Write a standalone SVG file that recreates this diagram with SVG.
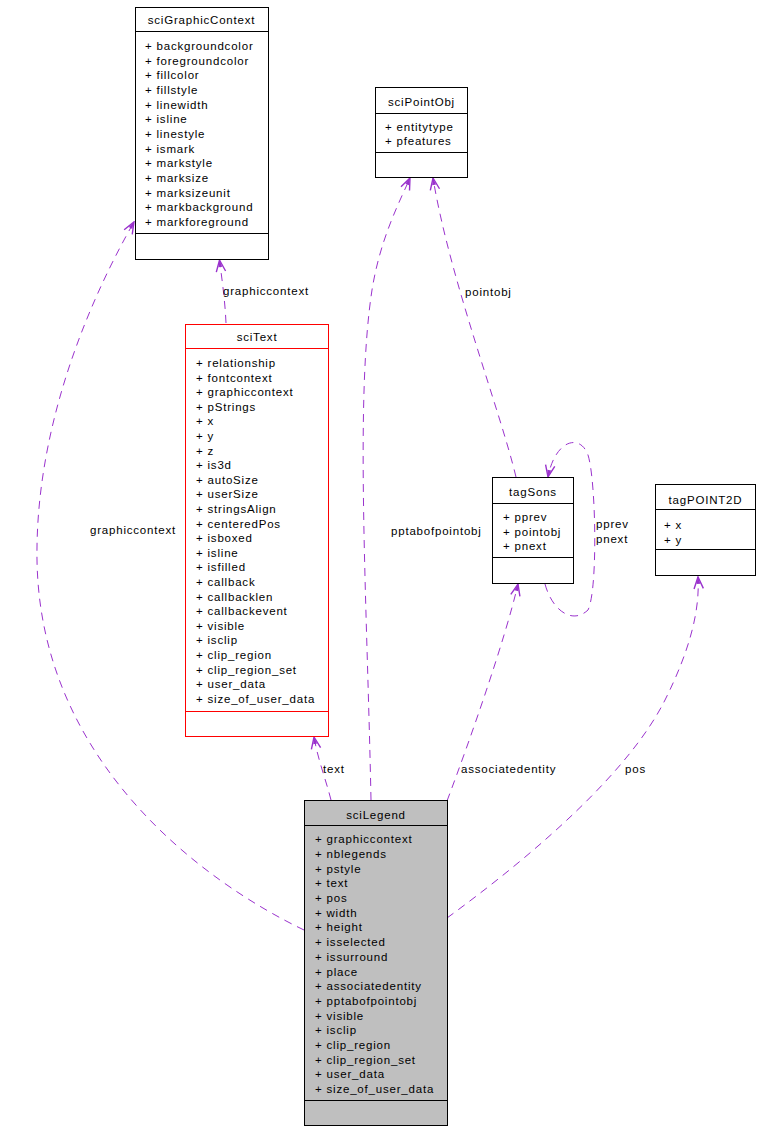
<svg xmlns="http://www.w3.org/2000/svg" width="758" height="1130" viewBox="0 0 758 1130">
  <defs>
    <style>
      text { font-family: "Liberation Sans", Arial, sans-serif; font-size: 11.5px; letter-spacing: 0.8px; fill: #000; }
      .title { text-anchor: middle; }
      .box { fill: #fff; stroke: #000; stroke-width: 1; }
      .box.red { stroke: #ff0000; }
      .box.grey { fill: #bfbfbf; }
      .sep { stroke: #000; stroke-width: 1; }
      .sep.red { stroke: #ff0000; }
      .edge { fill: none; stroke: #9a32cd; stroke-width: 1; stroke-dasharray: 8,6; marker-end: url(#open); }
    </style>
    <marker id="open" markerUnits="userSpaceOnUse" markerWidth="14" markerHeight="12" viewBox="0 0 12 10" refX="11" refY="5" orient="auto">
      <path d="M1,1 L11,5 L1,9" fill="none" stroke="#9a32cd" stroke-width="1.2"/>
      <path d="M5,3.3 L11,5 L5,6.7 Z" fill="#9a32cd"/>
    </marker>
  </defs>

  <!-- connectors -->
  <g id="connectors">
    <path class="edge" d="M304,930 C200,880 40,760 37,560 C35,420 95,290 134,222"/>
    <path class="edge" d="M226,323 C225,300 222,280 219.5,260"/>
    <path class="edge" d="M331,800 C326,780 318,760 314,737"/>
    <path class="edge" d="M371,800 C367,600 355,400 372,290 C380,240 398,205 410,178"/>
    <path class="edge" d="M516,477 C500,410 450,280 433,178"/>
    <path class="edge" d="M545,584 C552,610 572,625 588,610 C598,590 596,480 588,455 C580,433 555,440 548,477"/>
    <path class="edge" d="M447,801 C470,740 505,640 518,584"/>
    <path class="edge" d="M447,918 C540,850 630,770 665,700 C690,650 700,610 698,577"/>
    <text x="90" y="534">graphiccontext</text>
    <text x="223" y="295">graphiccontext</text>
    <text x="465" y="296">pointobj</text>
    <text x="391" y="535">pptabofpointobj</text>
    <text x="596" y="528">pprev</text>
    <text x="596" y="543">pnext</text>
    <text x="323" y="773">text</text>
    <text x="461" y="773">associatedentity</text>
    <text x="625" y="773">pos</text>
  </g>

  <!-- sciGraphicContext -->
  <g id="sciGraphicContext">
    <rect class="box" x="135.5" y="7.5" width="133" height="252"/>
    <line class="sep" x1="135.5" y1="31.5" x2="268.5" y2="31.5"/>
    <line class="sep" x1="135.5" y1="233.5" x2="268.5" y2="233.5"/>
    <text class="title" x="201.5" y="24">sciGraphicContext</text>
    <text x="145" y="50">+ backgroundcolor</text>
    <text x="145" y="64.7">+ foregroundcolor</text>
    <text x="145" y="79.3">+ fillcolor</text>
    <text x="145" y="94">+ fillstyle</text>
    <text x="145" y="108.7">+ linewidth</text>
    <text x="145" y="123.3">+ isline</text>
    <text x="145" y="138">+ linestyle</text>
    <text x="145" y="152.7">+ ismark</text>
    <text x="145" y="167.3">+ markstyle</text>
    <text x="145" y="182">+ marksize</text>
    <text x="145" y="196.7">+ marksizeunit</text>
    <text x="145" y="211.3">+ markbackground</text>
    <text x="145" y="226">+ markforeground</text>
  </g>

  <!-- sciPointObj -->
  <g id="sciPointObj">
    <rect class="box" x="375.5" y="87.5" width="92" height="90"/>
    <line class="sep" x1="375.5" y1="113.5" x2="467.5" y2="113.5"/>
    <line class="sep" x1="375.5" y1="152.5" x2="467.5" y2="152.5"/>
    <text class="title" x="421.5" y="106">sciPointObj</text>
    <text x="385" y="131">+ entitytype</text>
    <text x="385" y="145">+ pfeatures</text>
  </g>

  <!-- sciText -->
  <g id="sciText">
    <rect class="box red" x="185.5" y="324.5" width="143" height="412"/>
    <line class="sep red" x1="185.5" y1="348.5" x2="328.5" y2="348.5"/>
    <line class="sep red" x1="185.5" y1="711.5" x2="328.5" y2="711.5"/>
    <text class="title" x="257" y="341">sciText</text>
    <text x="196" y="367">+ relationship</text>
    <text x="196" y="381.6">+ fontcontext</text>
    <text x="196" y="396.2">+ graphiccontext</text>
    <text x="196" y="410.8">+ pStrings</text>
    <text x="196" y="425.4">+ x</text>
    <text x="196" y="440">+ y</text>
    <text x="196" y="454.6">+ z</text>
    <text x="196" y="469.2">+ is3d</text>
    <text x="196" y="483.8">+ autoSize</text>
    <text x="196" y="498.4">+ userSize</text>
    <text x="196" y="513">+ stringsAlign</text>
    <text x="196" y="527.6">+ centeredPos</text>
    <text x="196" y="542.2">+ isboxed</text>
    <text x="196" y="556.8">+ isline</text>
    <text x="196" y="571.4">+ isfilled</text>
    <text x="196" y="586">+ callback</text>
    <text x="196" y="600.6">+ callbacklen</text>
    <text x="196" y="615.2">+ callbackevent</text>
    <text x="196" y="629.8">+ visible</text>
    <text x="196" y="644.4">+ isclip</text>
    <text x="196" y="659">+ clip_region</text>
    <text x="196" y="673.6">+ clip_region_set</text>
    <text x="196" y="688.2">+ user_data</text>
    <text x="196" y="702.8">+ size_of_user_data</text>
  </g>

  <!-- tagSons -->
  <g id="tagSons">
    <rect class="box" x="492.5" y="477.5" width="81" height="106"/>
    <line class="sep" x1="492.5" y1="503.5" x2="573.5" y2="503.5"/>
    <line class="sep" x1="492.5" y1="557.5" x2="573.5" y2="557.5"/>
    <text class="title" x="533" y="496">tagSons</text>
    <text x="503" y="521">+ pprev</text>
    <text x="503" y="535.5">+ pointobj</text>
    <text x="503" y="550">+ pnext</text>
  </g>

  <!-- tagPOINT2D -->
  <g id="tagPOINT2D">
    <rect class="box" x="655.5" y="484.5" width="100" height="91"/>
    <line class="sep" x1="655.5" y1="509.5" x2="755.5" y2="509.5"/>
    <line class="sep" x1="655.5" y1="549.5" x2="755.5" y2="549.5"/>
    <text class="title" x="705.5" y="504">tagPOINT2D</text>
    <text x="664" y="529">+ x</text>
    <text x="664" y="544">+ y</text>
  </g>

  <!-- sciLegend -->
  <g id="sciLegend">
    <rect class="box grey" x="304.5" y="800.5" width="143" height="325"/>
    <line class="sep" x1="304.5" y1="825.5" x2="447.5" y2="825.5"/>
    <line class="sep" x1="304.5" y1="1100.5" x2="447.5" y2="1100.5"/>
    <text class="title" x="376" y="819">sciLegend</text>
    <text x="315" y="843.3">+ graphiccontext</text>
    <text x="315" y="858">+ nblegends</text>
    <text x="315" y="872.7">+ pstyle</text>
    <text x="315" y="887.4">+ text</text>
    <text x="315" y="902.1">+ pos</text>
    <text x="315" y="916.8">+ width</text>
    <text x="315" y="931.4">+ height</text>
    <text x="315" y="946.1">+ isselected</text>
    <text x="315" y="960.8">+ issurround</text>
    <text x="315" y="975.5">+ place</text>
    <text x="315" y="990.2">+ associatedentity</text>
    <text x="315" y="1004.9">+ pptabofpointobj</text>
    <text x="315" y="1019.6">+ visible</text>
    <text x="315" y="1034.2">+ isclip</text>
    <text x="315" y="1048.9">+ clip_region</text>
    <text x="315" y="1063.6">+ clip_region_set</text>
    <text x="315" y="1078.3">+ user_data</text>
    <text x="315" y="1093">+ size_of_user_data</text>
  </g>
</svg>
